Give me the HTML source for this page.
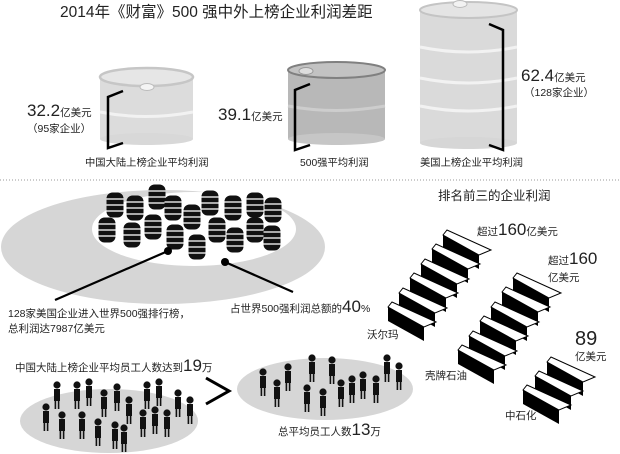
<!DOCTYPE html>
<html><head><meta charset="utf-8"><style>
body{margin:0;background:#fff}
svg{display:block}
text{font-family:"Liberation Sans","Noto Sans CJK SC",sans-serif;fill:#222}
</style></head><body>
<svg width="620" height="454" viewBox="0 0 620 454" xmlns="http://www.w3.org/2000/svg">
<defs>
<g id="kb"><rect x="-8.5" y="-12.5" width="17" height="25" rx="6" fill="#111"/>
<path d="M-8.5 -6 H8.5 M-8.5 0 H8.5 M-8.5 6 H8.5" stroke="#ddd" stroke-width="1.5"/></g>
<g id="pp"><circle cx="0" cy="0" r="3.6" fill="#111"/><rect x="-3" y="4" width="6" height="12" fill="#111"/><path d="M-1.6 16 V24 M1.6 16 V24" stroke="#111" stroke-width="1.6"/></g>
<g id="st">
<polygon points="0,0 36,20 36,34 0,14" fill="#000"/>
<polygon points="0,0 4,-5 48,15 36,20" fill="#fff" stroke="#000" stroke-width="1"/>
</g>
</defs>
<text x="60" y="17" font-size="15.5" fill="#333">2014年《财富》500 强中外上榜企业利润差距</text>

<rect x="100" y="77" width="93" height="62" fill="#dcdcdc"/>
<ellipse cx="146.5" cy="139" rx="46.5" ry="6" fill="#d8d8d8"/>
<path d="M100 112 Q146 121 193 112" stroke="#f2f2f2" stroke-width="3" fill="none"/>
<ellipse cx="146.5" cy="77" rx="46.5" ry="9" fill="#e6e6e6" stroke="#c6c6c6" stroke-width="2.5"/>
<ellipse cx="147" cy="87" rx="7" ry="3.5" fill="#f4f4f4" stroke="#bbb"/>
<path d="M123 91 L108 97 L108 148 L123 143" stroke="#000" stroke-width="2.5" fill="none"/>
<text x="27" y="116" font-size="17">32.2<tspan font-size="10.5">亿美元</tspan></text>
<text x="27" y="132" font-size="10.5">（95家企业）</text>
<text x="85" y="166" font-size="10.3">中国大陆上榜企业平均利润</text>

<rect x="288" y="70" width="97" height="69" fill="#b8b8b8"/>
<ellipse cx="336.5" cy="139" rx="48.5" ry="6" fill="#c6c6c6"/>
<path d="M288 106 Q336 115 385 106" stroke="#cdcdcd" stroke-width="3" fill="none"/>
<ellipse cx="336.5" cy="70" rx="48.5" ry="8" fill="#c2c2c2" stroke="#808080" stroke-width="2"/>
<ellipse cx="306" cy="71" rx="7" ry="3.5" fill="#ddd" stroke="#999"/>
<path d="M310 84 L295 90 L295 150 L310 145" stroke="#000" stroke-width="2.5" fill="none"/>
<text x="218" y="120" font-size="17">39.1<tspan font-size="10.5">亿美元</tspan></text>
<text x="300" y="166" font-size="10.3">500强平均利润</text>

<rect x="420" y="10" width="97" height="133" fill="#dadada"/>
<ellipse cx="468.5" cy="143" rx="48.5" ry="6" fill="#d6d6d6"/>
<path d="M420 47 Q468 57 517 47 M420 78 Q468 88 517 78 M420 106 Q468 116 517 106" stroke="#f2f2f2" stroke-width="3" fill="none"/>
<ellipse cx="468.5" cy="10" rx="48.5" ry="8" fill="#e4e4e4" stroke="#c4c4c4" stroke-width="2"/>
<ellipse cx="460" cy="4" rx="7" ry="3.5" fill="#f2f2f2" stroke="#bbb"/>
<path d="M489 24 L503 30 L503 150 L489 145" stroke="#000" stroke-width="2.5" fill="none"/>
<text x="521" y="81" font-size="17">62.4<tspan font-size="10.5">亿美元</tspan></text>
<text x="524" y="96" font-size="10.5">（128家企业）</text>
<text x="420" y="166" font-size="10.3">美国上榜企业平均利润</text>

<line x1="0" y1="180" x2="620" y2="180" stroke="#999" stroke-dasharray="1,2"/>

<ellipse cx="163" cy="247" rx="162" ry="57" fill="#d6d6d6"/>
<ellipse cx="194" cy="229" rx="102" ry="37" fill="#fff"/>
<use href="#kb" x="115" y="205"/><use href="#kb" x="135" y="208"/><use href="#kb" x="157" y="197"/><use href="#kb" x="173" y="208"/>
<use href="#kb" x="192" y="217"/><use href="#kb" x="210" y="203"/><use href="#kb" x="233" y="208"/><use href="#kb" x="255" y="205"/>
<use href="#kb" x="273" y="210"/><use href="#kb" x="107" y="230"/><use href="#kb" x="132" y="235"/><use href="#kb" x="153" y="227"/>
<use href="#kb" x="175" y="237"/><use href="#kb" x="197" y="247"/><use href="#kb" x="217" y="230"/><use href="#kb" x="235" y="240"/>
<use href="#kb" x="255" y="230"/><use href="#kb" x="272" y="238"/>
<line x1="168" y1="251" x2="55" y2="300" stroke="#000" stroke-width="2.2"/><circle cx="168" cy="251" r="4" fill="#000"/>
<line x1="225" y1="262" x2="293" y2="292" stroke="#000" stroke-width="2.2"/><circle cx="225" cy="262" r="4" fill="#000"/>
<text x="8" y="317" font-size="10.5">128家美国企业进入世界500强排行榜，</text>
<text x="8" y="332" font-size="10.5">总利润达7987亿美元</text>
<text x="230" y="312" font-size="10.5">占世界500强利润总额的<tspan font-size="17">40</tspan>%</text>

<text x="438" y="200" font-size="12.5">排名前三的企业利润</text>
<use href="#st" x="443" y="235"/><use href="#st" x="432" y="249"/><use href="#st" x="421" y="264"/>
<use href="#st" x="410" y="278"/><use href="#st" x="399" y="293"/><use href="#st" x="388" y="307"/>
<use href="#st" x="513" y="278"/><use href="#st" x="502" y="292"/><use href="#st" x="491" y="307"/>
<use href="#st" x="480" y="321"/><use href="#st" x="469" y="336"/><use href="#st" x="458" y="350"/>
<use href="#st" x="547" y="362"/><use href="#st" x="535" y="376"/><use href="#st" x="523" y="390"/>

<text x="477" y="235" font-size="10.5">超过<tspan font-size="17">160</tspan>亿美元</text>
<text x="548" y="264" font-size="10.5">超过<tspan font-size="17">160</tspan></text>
<text x="548" y="281" font-size="10.5">亿美元</text>
<text x="575" y="345" font-size="20">89</text>
<text x="575" y="360" font-size="10.5">亿美元</text>
<text x="367" y="338" font-size="10.5">沃尔玛</text>
<text x="425" y="379" font-size="10.5">壳牌石油</text>
<text x="505" y="419" font-size="10.5">中石化</text>

<ellipse cx="109" cy="421" rx="89" ry="32" fill="#d6d6d6"/>
<ellipse cx="325" cy="389" rx="88" ry="31" fill="#d6d6d6"/>
<text x="15" y="371" font-size="10.5">中国大陆上榜企业平均员工人数达到<tspan font-size="17">19</tspan>万</text>
<text x="278" y="435" font-size="10.5">总平均员工人数<tspan font-size="17">13</tspan>万</text>
<path d="M206 378 L229 391 L206 404" stroke="#000" stroke-width="3" fill="none"/>
<use href="#pp" x="57" y="385"/><use href="#pp" x="77" y="385"/><use href="#pp" x="89" y="382"/><use href="#pp" x="104" y="393"/>
<use href="#pp" x="117" y="387"/><use href="#pp" x="129" y="400"/><use href="#pp" x="147" y="385"/><use href="#pp" x="159" y="382"/>
<use href="#pp" x="178" y="393"/><use href="#pp" x="190" y="400"/><use href="#pp" x="46" y="407"/><use href="#pp" x="62" y="415"/>
<use href="#pp" x="82" y="415"/><use href="#pp" x="98" y="422"/><use href="#pp" x="115" y="425"/><use href="#pp" x="124" y="428"/>
<use href="#pp" x="143" y="413"/><use href="#pp" x="155" y="410"/><use href="#pp" x="167" y="413"/>
<use href="#pp" x="263" y="372"/><use href="#pp" x="277" y="383"/><use href="#pp" x="288" y="367"/><use href="#pp" x="312" y="358"/>
<use href="#pp" x="307" y="388"/><use href="#pp" x="323" y="392"/><use href="#pp" x="332" y="360"/><use href="#pp" x="341" y="383"/>
<use href="#pp" x="352" y="379"/><use href="#pp" x="363" y="375"/><use href="#pp" x="376" y="379"/><use href="#pp" x="387" y="358"/>
<use href="#pp" x="399" y="366"/>
</svg>
</body></html>
